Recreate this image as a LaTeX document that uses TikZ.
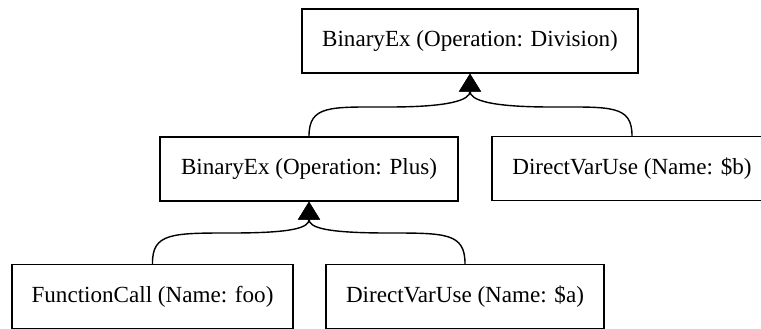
\documentclass[tikz,border=0pt]{standalone}
\usepackage{fontspec}
\setmainfont{Liberation Serif}
\newfontfamily\labelfont{Liberation Serif}
\usetikzlibrary{arrows.meta}
\begin{document}
\begin{tikzpicture}[x=1pt,y=-1pt,
  astnode/.style={draw,rectangle,line width=1.4pt,inner sep=0pt,minimum height=64pt,
    font=\labelfont\fontsize{23.1}{27}\selectfont},
  edge/.style={line width=1.4pt,-{Triangle[width=22pt,length=18pt]}}]
  \useasboundingbox (0,0) rectangle (761,329);
  \clip (0,0) rectangle (761,329);

  % expression tree nodes
  \node[astnode,minimum width=336pt] (div)  at (470,41)    {BinaryEx (Operation: Division)};
  \node[astnode,minimum width=298pt] (plus) at (309,169)   {BinaryEx (Operation: Plus)};
  \node[astnode,minimum width=280pt] (varb) at (632,168.5) {DirectVarUse (Name: \$b)};
  \node[astnode,minimum width=281pt] (call) at (152.5,296.5) {FunctionCall (Name: foo)};
  \node[astnode,minimum width=278pt] (vara) at (465,296.5) {DirectVarUse (Name: \$a)};

  % operands point up to their operator
  \draw[edge] (plus.north) .. controls (309,105) and (330,107) .. (389,107)
                           .. controls (450,107) and (470,100) .. (div.south);
  \draw[edge] (varb.north) .. controls (632,105) and (611,107) .. (551,107)
                           .. controls (490,107) and (470,100) .. (div.south);
  \draw[edge] (call.north) .. controls (152,233) and (172,233) .. (231,233)
                           .. controls (292,233) and (309,228) .. (plus.south);
  \draw[edge] (vara.north) .. controls (465,233) and (446,233) .. (388,233)
                           .. controls (328,233) and (309,228) .. (plus.south);
\end{tikzpicture}
\end{document}
